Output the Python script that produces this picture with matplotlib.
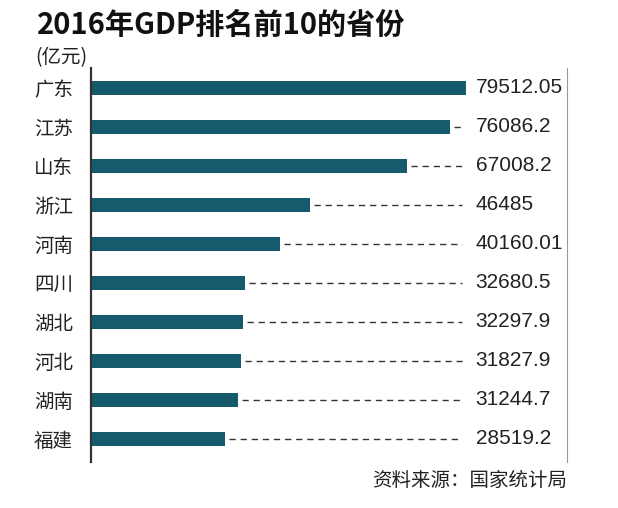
import matplotlib
matplotlib.use("Agg")
import matplotlib.pyplot as plt

plt.rcParams['font.family'] = ['Noto Sans CJK SC', 'DejaVu Sans']

provinces = ['广东', '江苏', '山东', '浙江', '河南', '四川', '湖北', '河北', '湖南', '福建']
gdp = [79512.05, 76086.2, 67008.2, 46485, 40160.01, 32680.5, 32297.9, 31827.9, 31244.7, 28519.2]
value_labels = ['79512.05', '76086.2', '67008.2', '46485', '40160.01',
                '32680.5', '32297.9', '31827.9', '31244.7', '28519.2']

title = '2016年GDP排名前10的省份'
unit = '(亿元)'
source = '资料来源：国家统计局'

bar_color = '#155b6d'
x_max = 101000

fig = plt.figure(figsize=(6.18, 5.08), dpi=100)
ax = fig.add_axes([91 / 618, 1 - 462 / 508, 476 / 618, 394 / 508])

y = list(range(len(provinces)))
ax.barh(y, gdp, height=0.36, color=bar_color)

# dashed leaders from bar end to the value column
dash_end = 0.78 * x_max
gap = x_max * 0.0085
for yi, v, lab in zip(y, gdp, value_labels):
    if v + gap < dash_end:
        ax.plot([v + gap, dash_end], [yi, yi], color='#333333', lw=1.0,
                dashes=(4.5, 3.5))
    ax.text(0.808 * x_max, yi, lab, va='center', ha='left', fontsize=15,
            family=['Liberation Sans', 'DejaVu Sans'], color='#222222')

ax.set_xlim(0, x_max)
ax.set_ylim(9.59, -0.51)
ax.set_yticks(y)
ax.set_yticklabels(provinces, fontsize=14, color='#222222')
ax.tick_params(axis='y', length=0, pad=13)
ax.set_xticks([])

for s in ['top', 'bottom']:
    ax.spines[s].set_visible(False)
ax.spines['left'].set_color('#333333')
ax.spines['left'].set_linewidth(1.6)
ax.spines['right'].set_color('#999999')
ax.spines['right'].set_linewidth(0.8)

fig.text(37 / 618, 1 - 34 / 508, title, fontsize=21, fontweight='bold',
         va='baseline', ha='left', color='#111111')
fig.text(35 / 618, 1 - 63 / 508, unit, fontsize=14, va='baseline', ha='left',
         color='#222222')
fig.text(567 / 618, 1 - 486 / 508, source, fontsize=14, va='baseline',
         ha='right', color='#222222')

fig.savefig('out.png', dpi=100)
